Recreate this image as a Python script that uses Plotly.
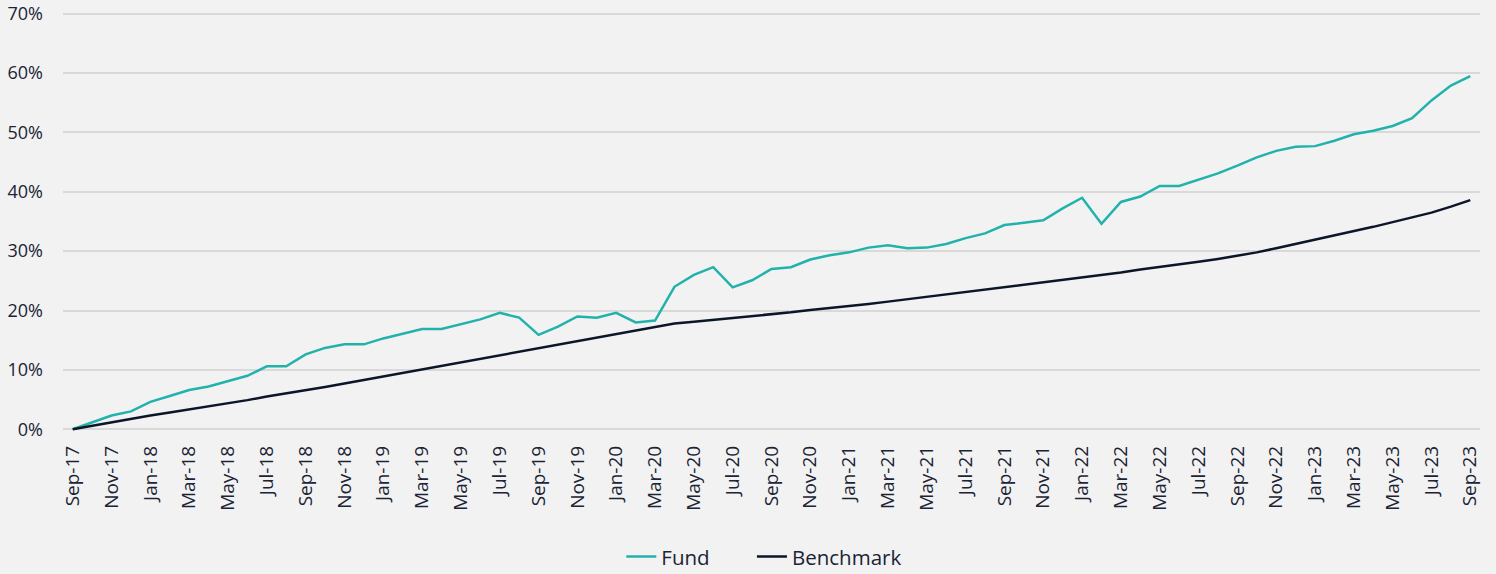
import plotly.graph_objects as go

month_names = ["Jan", "Feb", "Mar", "Apr", "May", "Jun", "Jul", "Aug", "Sep", "Oct", "Nov", "Dec"]
# monthly categories Sep-17 .. Sep-23
dates = []
m, y = 8, 17
for _ in range(73):
    dates.append(f"{month_names[m]}-{y:02d}")
    m += 1
    if m == 12:
        m, y = 0, y + 1

fund = [0.0, 1.2, 2.3, 3.0, 4.6, 5.6, 6.6, 7.2, 8.1, 9.0, 10.6, 10.6, 12.6, 13.7, 14.3, 14.3,
        15.3, 16.1, 16.9, 16.9, 17.7, 18.5, 19.6, 18.8, 15.9, 17.3, 19.0, 18.8, 19.6, 18.0,
        18.3, 24.0, 26.0, 27.3, 23.9, 25.1, 27.0, 27.3, 28.6, 29.3, 29.8, 30.6, 31.0, 30.5,
        30.6, 31.2, 32.2, 33.0, 34.4, 34.8, 35.2, 37.2, 39.0, 34.6, 38.3, 39.2, 41.0, 41.0,
        42.0, 43.1, 44.4, 45.8, 46.9, 47.6, 47.7, 48.6, 49.7, 50.3, 51.1, 52.4, 55.4, 57.9, 59.5]

benchmark = [0.0, 0.6, 1.2, 1.7, 2.3, 2.8, 3.3, 3.9, 4.4, 4.9, 5.5, 6.0, 6.6, 7.1, 7.7, 8.3,
             8.9, 9.5, 10.1, 10.7, 11.3, 11.8, 12.4, 13.0, 13.6, 14.2, 14.8, 15.4, 16.1, 16.7,
             17.3, 17.8, 18.1, 18.4, 18.8, 19.1, 19.4, 19.7, 20.1, 20.4, 20.8, 21.1, 21.5, 21.9,
             22.3, 22.7, 23.1, 23.5, 24.0, 24.3, 24.7, 25.1, 25.5, 26.0, 26.4, 26.9, 27.3, 27.7,
             28.2, 28.7, 29.2, 29.8, 30.5, 31.2, 31.9, 32.6, 33.3, 34.1, 34.9, 35.7, 36.5, 37.5, 38.6]

y_ticks = [0, 10, 20, 30, 40, 50, 60, 70]
y_ticktext = [f"{v}%" for v in y_ticks]

x_idx = list(range(len(dates)))
x_tickvals = x_idx[::2]
x_ticktext = dates[::2]

TEXT = "#1B2435"
BG = "#F2F2F2"
fig = go.Figure()
fig.add_trace(go.Scatter(x=x_idx, y=fund, mode="lines", name="Fund", legend="legend",
                         line=dict(color="#22B2AC", width=2.5)))
fig.add_trace(go.Scatter(x=x_idx, y=benchmark, mode="lines", name="Benchmark", legend="legend2",
                         line=dict(color="#0B1628", width=2.5)))

leg_common = dict(orientation="h", xanchor="left", y=-0.30, yanchor="middle",
                  font=dict(size=20.5), bgcolor="rgba(0,0,0,0)")
fig.update_layout(
    width=1496, height=574,
    paper_bgcolor=BG, plot_bgcolor=BG,
    margin=dict(l=63, r=16, t=12, b=143, autoexpand=False),
    font=dict(family="Open Sans, DejaVu Sans, sans-serif", color=TEXT, size=18),
    showlegend=True,
    legend=dict(x=0.394, **leg_common),
    legend2=dict(x=0.4862, **leg_common),
    hovermode=False,
)
fig.update_xaxes(range=[-0.5, 72.5], tickmode="array", tickvals=x_tickvals, ticktext=x_ticktext,
                 tickangle=-90, showgrid=False, zeroline=False, showline=False, automargin=False,
                 ticks="", ticklabelstandoff=10, tickfont=dict(size=19))
fig.update_yaxes(range=[-0.3, 70.3], tickmode="array", tickvals=y_ticks, ticktext=y_ticktext,
                 showgrid=True, gridcolor="#D9D9D9", gridwidth=1.5, zeroline=False, automargin=False,
                 showline=False, ticks="", ticklabelstandoff=19, tickfont=dict(size=18))

fig.write_html("out.html", config={"displayModeBar": False},
               post_script="document.body.style.margin='0';document.body.style.background='#F2F2F2';")
